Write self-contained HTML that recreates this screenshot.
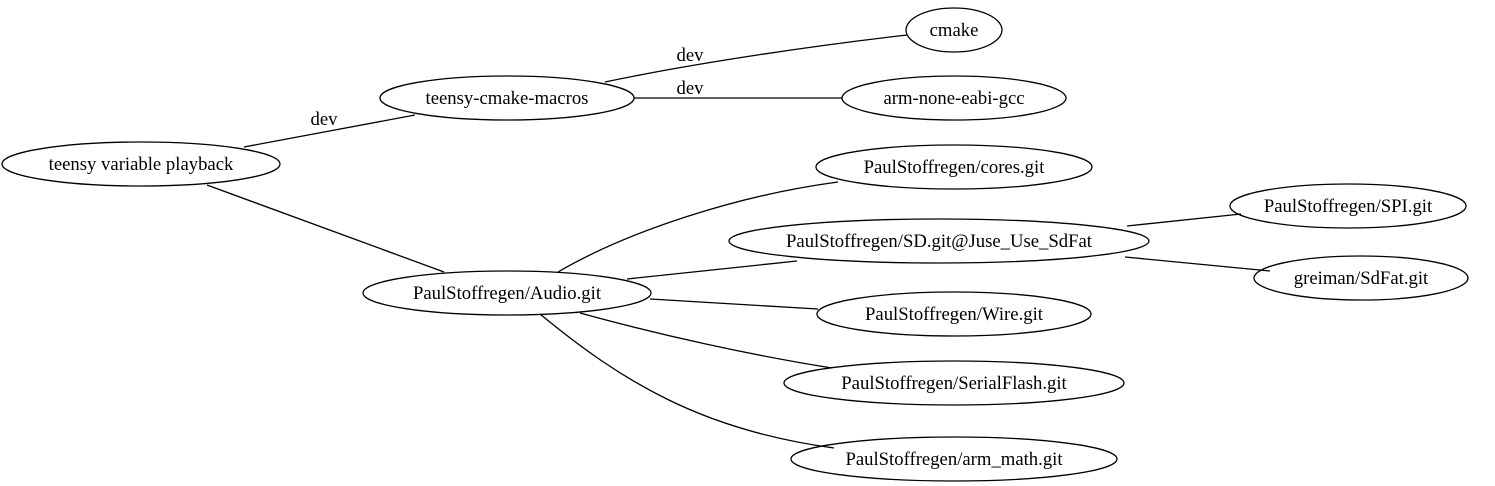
<!DOCTYPE html>
<html><head><meta charset="utf-8"><style>
html,body{margin:0;padding:0;background:#fff;}
svg{display:block}
text{font-family:"Liberation Serif",serif;font-size:18.7px;fill:#000;}
</style></head><body>
<svg width="1495" height="486" viewBox="0 0 1495 486" xmlns="http://www.w3.org/2000/svg">
<g fill="none" stroke="#000" stroke-width="1.3">
<path d="M244,147 L415,115"/>
<path d="M605,82 C700,62 820,45 907,35"/>
<path d="M634,98 L842,98"/>
<path d="M207,185 L444,272"/>
<path d="M558,272 C630,230 740,195 838,182"/>
<path d="M627,279 L797,261"/>
<path d="M650,299 L818,309"/>
<path d="M580,313 C660,335 750,355 832,368"/>
<path d="M540,314 C620,380 700,430 834,448"/>
<path d="M1127,226 L1241,214"/>
<path d="M1125,257 L1270,271"/>
<ellipse cx="954" cy="30" rx="48" ry="22"/>
<ellipse cx="954" cy="98" rx="112" ry="22"/>
<ellipse cx="507" cy="98" rx="127" ry="22"/>
<ellipse cx="141" cy="164" rx="139" ry="22"/>
<ellipse cx="954" cy="167" rx="138" ry="22"/>
<ellipse cx="939" cy="241" rx="210" ry="22"/>
<ellipse cx="1348" cy="206" rx="118" ry="22"/>
<ellipse cx="1361" cy="278" rx="107" ry="22"/>
<ellipse cx="507" cy="293" rx="144" ry="22"/>
<ellipse cx="954" cy="314" rx="137" ry="22"/>
<ellipse cx="954" cy="383" rx="170" ry="22"/>
<ellipse cx="954" cy="459" rx="163" ry="22"/>
</g>
<g text-anchor="middle">
<text x="954" y="36">cmake</text>
<text x="954" y="104">arm-none-eabi-gcc</text>
<text x="507" y="104">teensy-cmake-macros</text>
<text x="141" y="170">teensy variable playback</text>
<text x="954" y="173">PaulStoffregen/cores.git</text>
<text x="939" y="247">PaulStoffregen/SD.git@Juse_Use_SdFat</text>
<text x="1348" y="212">PaulStoffregen/SPI.git</text>
<text x="1361" y="284">greiman/SdFat.git</text>
<text x="507" y="299">PaulStoffregen/Audio.git</text>
<text x="954" y="320">PaulStoffregen/Wire.git</text>
<text x="954" y="389">PaulStoffregen/SerialFlash.git</text>
<text x="954" y="465">PaulStoffregen/arm_math.git</text>
<text x="324" y="125">dev</text>
<text x="690" y="61">dev</text>
<text x="690" y="94">dev</text>
</g>
</svg>
</body></html>
